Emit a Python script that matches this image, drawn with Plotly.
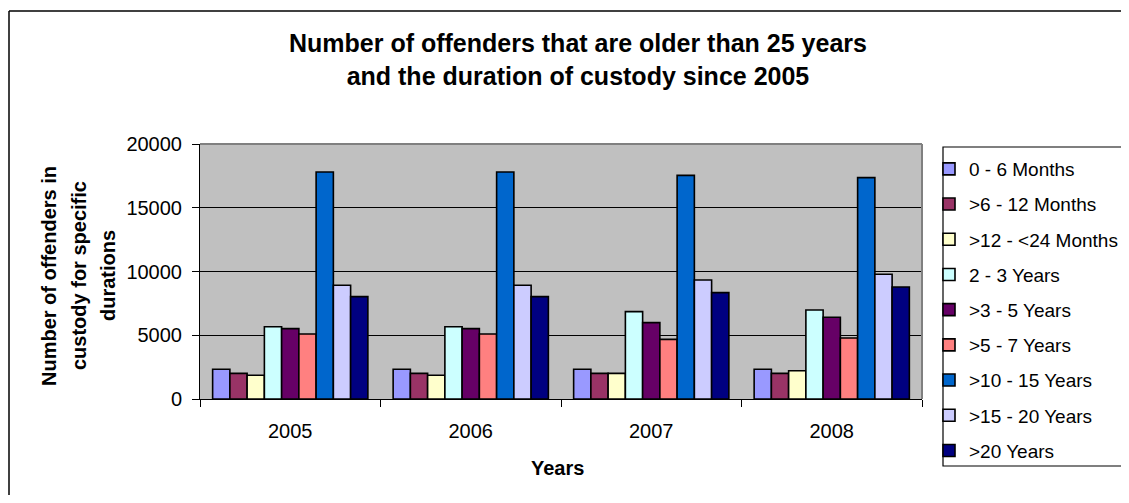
import plotly.graph_objects as go

years = ["2005", "2006", "2007", "2008"]
series_names = ["0 - 6 Months", ">6 - 12 Months", ">12 - <24 Months", "2 - 3 Years",
                ">3 - 5 Years", ">5 - 7 Years", ">10 - 15 Years", ">15 - 20 Years", ">20 Years"]
v_0_6m = [2330, 2330, 2330, 2330]
v_6_12m = [2010, 2010, 2010, 2010]
v_12_24m = [1860, 1860, 2010, 2220]
v_2_3y = [5670, 5670, 6850, 6980]
v_3_5y = [5520, 5520, 5990, 6410]
v_5_7y = [5100, 5100, 4680, 4780]
v_10_15y = [17800, 17800, 17540, 17360]
v_15_20y = [8920, 8920, 9330, 9780]
v_20y = [8030, 8030, 8340, 8780]
series_values = [v_0_6m, v_6_12m, v_12_24m, v_2_3y, v_3_5y, v_5_7y, v_10_15y, v_15_20y, v_20y]
colors = ["#9999FF", "#993366", "#FFFFCC", "#CCFFFF", "#660066", "#FF8080", "#0066CC", "#CCCCFF", "#000080"]

FONT = "Liberation Sans, Arial, sans-serif"
OFF = 8  # page body margin
W, H = 1129 - 2 * OFF, 503 - 2 * OFF
# target plot area in screenshot coordinates
PX0, PX1, PY0, PY1 = 200, 922, 144, 399
L = PX0 - OFF
T = PY0 - OFF
R = W - (PX1 - OFF)
B = H - (PY1 - OFF)
pw, ph = PX1 - PX0, PY1 - PY0


def px_x(x):
    return (x - PX0) / pw


def px_y(y):
    return (PY1 - y) / ph


fig = go.Figure()
for i, (name, vals, col) in enumerate(zip(series_names, series_values, colors)):
    fig.add_trace(go.Bar(
        name=name, x=years, y=vals, legendgroup=f"g{i}",
        marker=dict(color=col, line=dict(color="black", width=1.6)),
    ))

fig.update_layout(
    width=W, height=H,
    margin=dict(l=L, r=R, t=T, b=B, autoexpand=False),
    paper_bgcolor="white", plot_bgcolor="#C0C0C0",
    font=dict(family=FONT, size=20, color="black"),
    barmode="group", bargap=0.14, bargroupgap=0.0,
    showlegend=True,
    legend=dict(
        x=px_x(929), y=px_y(150), xanchor="left", yanchor="top",
        bgcolor="rgba(0,0,0,0)", borderwidth=0,
        font=dict(family=FONT, size=19, color="black"),
        tracegroupgap=7.5, traceorder="grouped", maxheight=360,
    ),
    xaxis=dict(
        type="category", tickson="boundaries", ticks="outside", ticklen=7,
        tickcolor="black", showline=True, linecolor="black", linewidth=1,
        showgrid=False, tickfont=dict(size=20), ticklabelstandoff=14,
    ),
    yaxis=dict(
        range=[0, 20000], dtick=5000, tickformat="d", ticks="outside", ticklen=7,
        tickcolor="black", showline=True, linecolor="black", linewidth=1,
        showgrid=True, gridcolor="black", gridwidth=1, zeroline=False,
        tickfont=dict(size=20), ticklabelstandoff=6,
    ),
)

bold = dict(family=FONT, color="black", weight="bold")
annotations = [
    dict(text="Number of offenders that are older than 25 years<br>and the duration of custody since 2005",
         x=px_x(578), y=px_y(59), xref="paper", yref="paper", xanchor="center", yanchor="middle",
         showarrow=False, font=dict(size=25, **bold)),
    dict(text="Years", x=px_x(557), y=px_y(468), xref="paper", yref="paper",
         xanchor="center", yanchor="middle", showarrow=False, font=dict(size=20, **bold)),
]
ytitle_lines = ["Number of offenders in", "custody for specific", "durations"]
ytitle_x = [49, 79, 108]
for txt, xx in zip(ytitle_lines, ytitle_x):
    annotations.append(dict(text=txt, x=px_x(xx), y=px_y(276), xref="paper", yref="paper",
                            xanchor="center", yanchor="middle", textangle=-90, showarrow=False,
                            font=dict(size=20, **bold)))
fig.update_layout(annotations=annotations)

shapes = [
    # legend frame
    dict(type="rect", xref="paper", yref="paper", x0=px_x(943), x1=px_x(1140), y0=px_y(466), y1=px_y(147),
         line=dict(color="black", width=1.2), fillcolor="white", layer="above"),
    dict(type="line", xref="paper", yref="paper", x0=0, x1=1, y0=1, y1=1,
         line=dict(color="#808080", width=2), layer="above"),
    dict(type="line", xref="paper", yref="paper", x0=1, x1=1, y0=0, y1=1,
         line=dict(color="#808080", width=2), layer="above"),
    dict(type="line", xref="paper", yref="paper", x0=px_x(9), x1=px_x(9), y0=px_y(11), y1=px_y(520),
         line=dict(color="black", width=1.5), layer="above"),
    dict(type="line", xref="paper", yref="paper", x0=px_x(9), x1=px_x(1140), y0=px_y(11), y1=px_y(11),
         line=dict(color="black", width=1.5), layer="above"),
]
fig.update_layout(shapes=shapes)

fig.write_html("out.html")
